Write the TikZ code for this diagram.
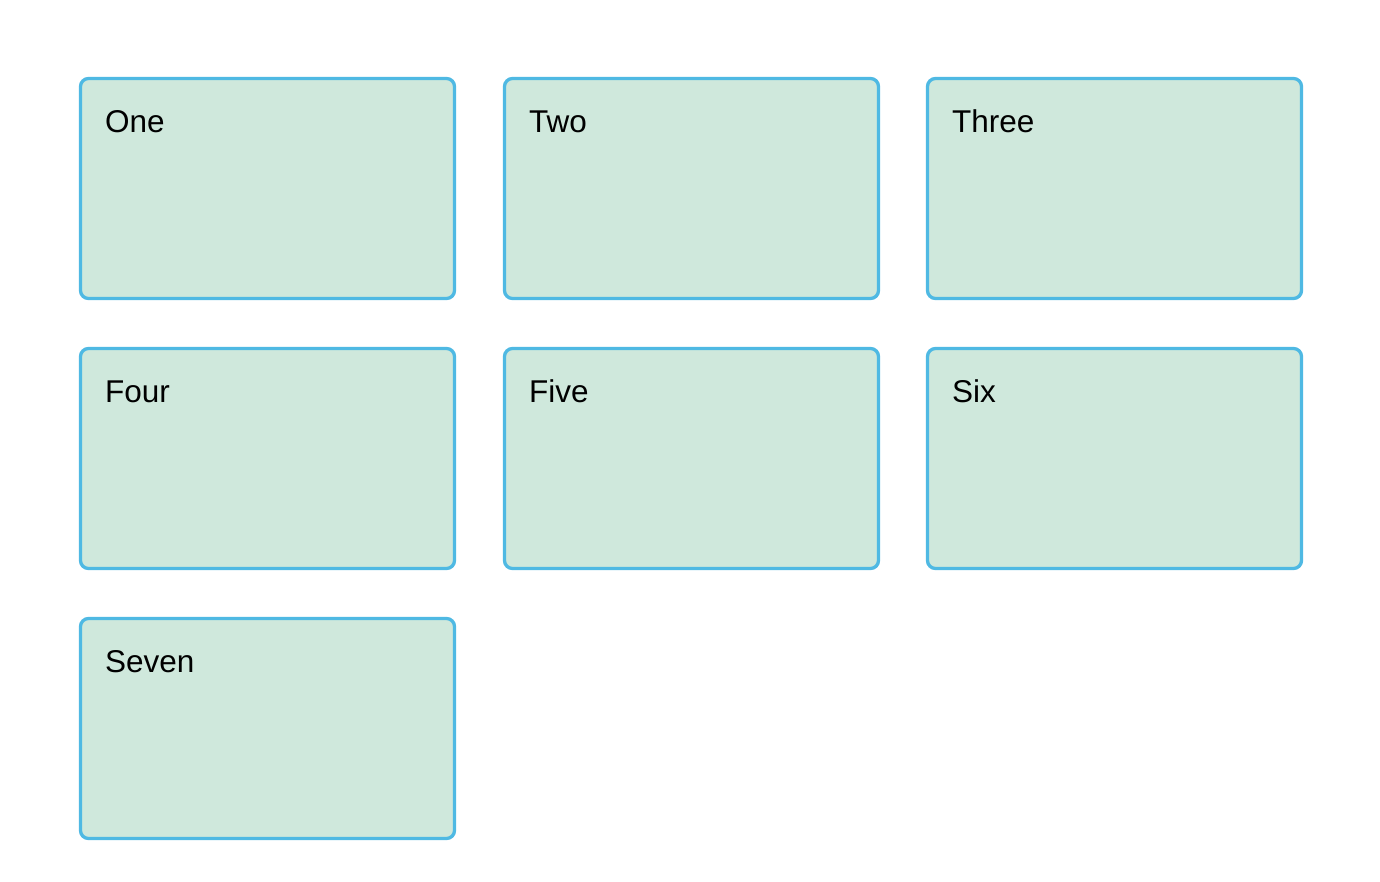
\documentclass[tikz,border=0pt]{standalone}
\usepackage{fontspec}
\setmainfont{Liberation Sans}
\definecolor{cardfill}{HTML}{CFE8DC}
\definecolor{cardline}{HTML}{4FB9E3}
\begin{document}
\begin{tikzpicture}[x=1pt,y=-1pt,
  card/.style={draw=cardline, fill=cardfill, line width=3.3pt, rounded corners=8pt},
  cardlabel/.style={anchor=base west, inner sep=0pt, font=\fontsize{31.5}{36}\selectfont}]
\useasboundingbox (0,0) rectangle (1380,881);
% cards: top-left corner at (x,y), 374 x 220
\foreach \name/\txt/\x/\y in {one/One/80.5/78.5, two/Two/504.5/78.5, three/Three/927.5/78.5,
    four/Four/80.5/348.5, five/Five/504.5/348.5, six/Six/927.5/348.5,
    seven/Seven/80.5/618.5} {
  \draw[card] (\x,\y) rectangle ++(374,220);
  \node[cardlabel] (\name) at (\x+24.5,\y+54) {\txt};
}
\end{tikzpicture}
\end{document}
